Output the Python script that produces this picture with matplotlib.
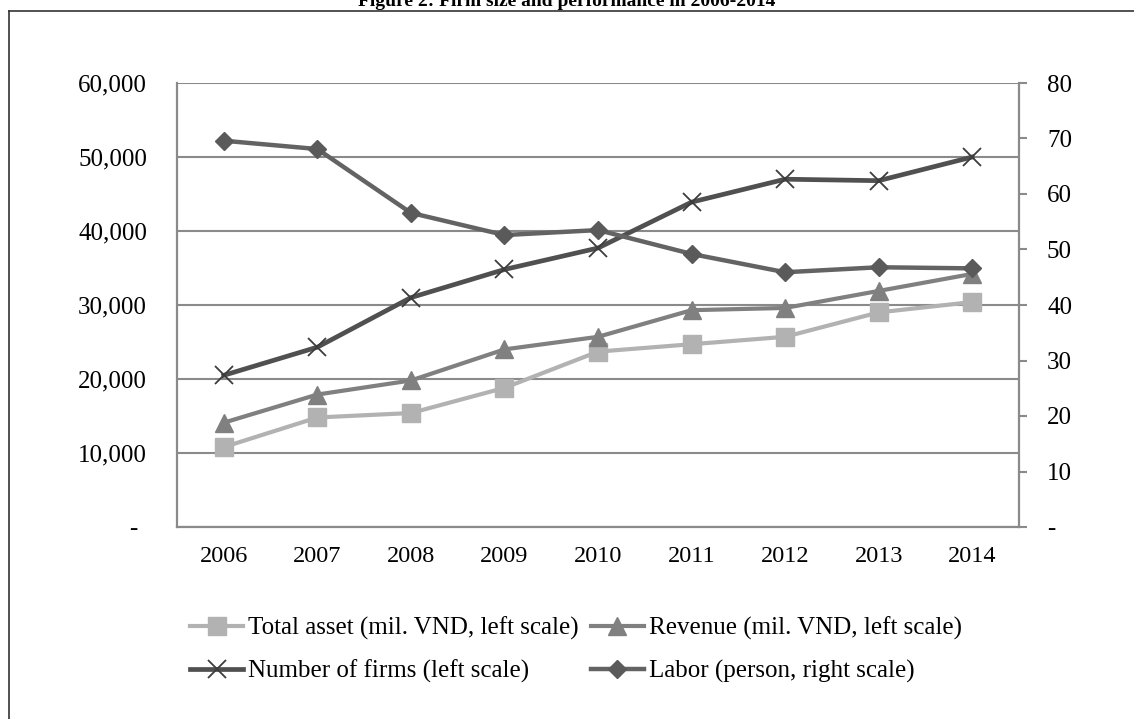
import matplotlib
matplotlib.use("Agg")
import matplotlib.pyplot as plt
from matplotlib.lines import Line2D
from matplotlib.ticker import FuncFormatter, FixedLocator
from matplotlib.transforms import ScaledTranslation

plt.rcParams['font.family'] = ['Liberation Serif', 'DejaVu Serif']

# ---- data -------------------------------------------------------------
years = ['2006', '2007', '2008', '2009', '2010', '2011', '2012', '2013', '2014']
total_asset = [10800, 14800, 15400, 18800, 23700, 24700, 25700, 29000, 30400]
revenue = [14100, 17900, 19800, 24000, 25700, 29300, 29600, 31900, 34200]
num_firms = [20500, 24300, 31000, 34800, 37700, 43900, 47000, 46800, 50000]
labor = [69.6, 68.1, 56.6, 52.6, 53.5, 49.2, 45.9, 46.8, 46.6]

left_ticks = [0, 10000, 20000, 30000, 40000, 50000, 60000]
right_ticks = [0, 10, 20, 30, 40, 50, 60, 70, 80]

title = 'Figure 2: Firm size and performance in 2006-2014'
labels = ['Total asset (mil. VND, left scale)',
          'Revenue (mil. VND, left scale)',
          'Number of firms (left scale)',
          'Labor (person, right scale)']

# ---- figure -----------------------------------------------------------
W, H = 1134, 719
PX = 72 / 100  # points per pixel at 100 dpi
fig = plt.figure(figsize=(W / 100, H / 100), dpi=100)
ax = fig.add_axes([177 / W, 1 - 527 / H, (1019 - 177) / W, (527 - 83) / H])
ax2 = ax.twinx()

FS = 18
axis_gray = '#8a8a8a'
x = list(range(len(years)))

l_asset, = ax.plot(x, total_asset, color='#b2b2b2', lw=3.0, marker='s',
                   ms=12.5, mfc='#b2b2b2', mec='#b2b2b2', zorder=3)
l_rev, = ax.plot(x, revenue, color='#808080', lw=3.0, marker='^',
                 ms=13.5, mfc='#808080', mec='#808080', zorder=3)
l_firms, = ax.plot(x, num_firms, color='#505050', lw=3.4, marker='x',
                   ms=13, mew=1.3, mec='#3c3c3c', zorder=4)
l_labor, = ax2.plot(x, labor, color='#636363', lw=3.2, marker='D',
                    ms=9.5, mfc='#5a5a5a', mec='#5a5a5a', zorder=3)

# left axis
ax.set_xlim(-0.5, len(years) - 0.5)
ax.set_ylim(left_ticks[0], left_ticks[-1])
ax.yaxis.set_major_locator(FixedLocator(left_ticks))
ax.yaxis.set_major_formatter(FuncFormatter(lambda v, p: '-' if v == 0 else f'{v:,.0f}'))
ax.set_xticks(x)
ax.set_xticklabels(years)
ax.tick_params(axis='y', length=0, pad=30 * PX, labelsize=FS)
ax.tick_params(axis='x', length=0, pad=14, labelsize=FS - 0.5)
ax.grid(axis='y', color=axis_gray, lw=1.5)
ax.set_axisbelow(True)
for side in ('top', 'right'):
    ax.spines[side].set_visible(False)
for side in ('left', 'bottom'):
    ax.spines[side].set_color(axis_gray)
    ax.spines[side].set_linewidth(1.6)

# right axis
ax2.set_ylim(right_ticks[0], right_ticks[-1])
ax2.yaxis.set_major_locator(FixedLocator(right_ticks))
ax2.yaxis.set_major_formatter(FuncFormatter(lambda v, p: '-' if v == 0 else f'{v:.0f}'))
ax2.tick_params(axis='y', length=8 * PX, width=1.5, color=axis_gray,
                pad=20 * PX, labelsize=FS)
for side in ('top', 'left', 'bottom'):
    ax2.spines[side].set_visible(False)
ax2.spines['right'].set_color(axis_gray)
ax2.spines['right'].set_linewidth(1.6)

# the zero label on the left scale sits a little left of the numbers
zero_tick = ax.yaxis.get_major_ticks()[0]
zero_tick.label1.set_transform(zero_tick.label1.get_transform()
                               + ScaledTranslation(-10 / 100, 0, fig.dpi_scale_trans))

# legend: two rows, two columns
fig.legend([l_asset, l_firms, l_rev, l_labor],
           [labels[0], labels[2], labels[1], labels[3]],
           ncol=2, loc='center', bbox_to_anchor=(576 / W, 1 - 650 / H),
           frameon=False, fontsize=FS, handlelength=2.1, handletextpad=0.2,
           columnspacing=0.5, labelspacing=0.8, borderpad=0, numpoints=1)

# title (runs off the top edge) and the surrounding frame
fig.text(0.5, 1 - 6 / H, title, ha='center', va='baseline',
         fontsize=14, fontweight='bold')
frame_kw = dict(color='#333333', lw=1.2, transform=fig.transFigure)
fig.add_artist(Line2D([9 / W, 9 / W], [0, 1 - 11 / H], **frame_kw))
fig.add_artist(Line2D([9 / W, 1], [1 - 11 / H, 1 - 11 / H], **frame_kw))

fig.savefig('out.png', dpi=100)
